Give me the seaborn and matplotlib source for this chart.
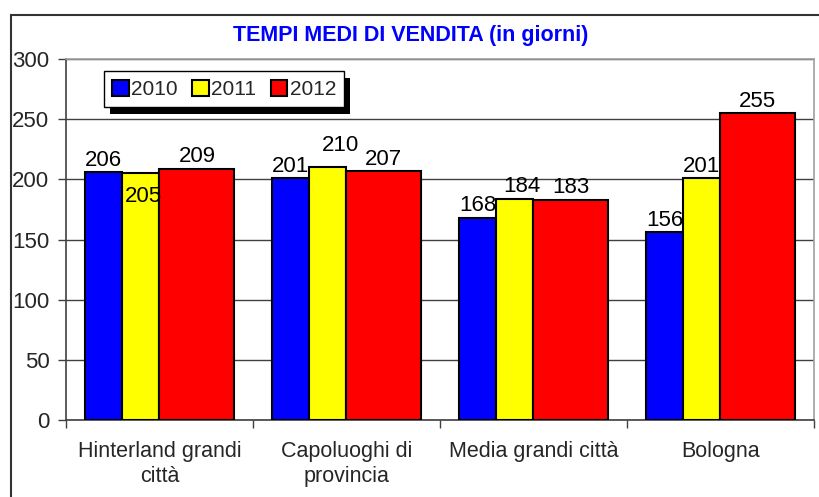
import pandas as pd
import seaborn as sns
import matplotlib.pyplot as plt
from matplotlib.patches import Rectangle
from matplotlib.transforms import IdentityTransform

categories = ["Hinterland grandi\ncittà", "Capoluoghi di\nprovincia", "Media grandi città", "Bologna"]
years = ["2010", "2011", "2012"]
v2010 = [206, 201, 168, 156]
v2011 = [205, 210, 184, 201]
v2012 = [209, 207, 183, 255]
colors = ["#0000ff", "#ffff00", "#ff0000"]

sns.set_style("white")
plt.rcParams["font.family"] = ["Liberation Sans", "DejaVu Sans"]

df = pd.DataFrame({
    "cat": categories * 3,
    "year": [y for y in years for _ in categories],
    "val": v2010 + v2011 + v2012,
})

fig = plt.figure(figsize=(8.2, 4.97), dpi=100)
ax = fig.add_axes([66 / 820, 77 / 497, 748 / 820, 361 / 497])

sns.barplot(data=df, x="cat", y="val", hue="year", hue_order=years, palette=colors,
            order=categories, width=0.8, edgecolor="black", linewidth=1.5,
            saturation=1, ax=ax, zorder=3)

# excel-style layout: 2010 and 2011 narrow, 2012 twice as wide
slot = 0.2
starts = [-0.4, -0.2, 0.0]
widths = [slot, slot, 2 * slot]
for i, cont in enumerate(ax.containers):
    for j, bar in enumerate(cont):
        bar.set_x(j + starts[i])
        bar.set_width(widths[i])

# value labels
special = {(1, 0): (2, -9, "top"), (1, 1): (9, 8, "bottom"), (1, 2): (5, 1, "bottom")}
for i, cont in enumerate(ax.containers):
    vals = [v2010, v2011, v2012][i]
    for j, bar in enumerate(cont):
        dx, dy, va = special.get((i, j), (0, 1, "bottom"))
        ax.annotate(str(vals[j]), (bar.get_x() + bar.get_width() / 2, bar.get_height()),
                    xytext=(dx, dy), textcoords="offset points", ha="center", va=va,
                    fontsize=16, color="black", zorder=6)

ax.set_ylim(0, 300)
ax.set_xlim(-0.5, 3.5)
ax.set_yticks(range(0, 301, 50))
ax.yaxis.grid(True, color="#404040", linewidth=1, zorder=0)
ax.set_axisbelow(True)
ax.set_xlabel("")
ax.set_ylabel("")
ax.tick_params(axis="y", labelsize=16, length=6, width=1, color="#404040", pad=6, left=True)
ax.set_xticks(range(4))
ax.set_xticklabels(categories, linespacing=1.25)
ax.tick_params(axis="x", which="major", labelsize=15.5, length=0, pad=15)
ax.set_xticks([-0.5, 0.5, 1.5, 2.5, 3.5], minor=True)
ax.tick_params(axis="x", which="minor", length=6, width=1, color="#404040", direction="out", bottom=True)
for s in ["left", "bottom"]:
    ax.spines[s].set_color("#404040")
    ax.spines[s].set_linewidth(1.2)
for s in ["top", "right"]:
    ax.spines[s].set_color("#a0a0a0")
    ax.spines[s].set_linewidth(1.2)

leg = ax.legend(loc="upper left", bbox_to_anchor=(0.051, 0.966), borderaxespad=0, ncol=3,
                fontsize=15, frameon=True, fancybox=False, framealpha=1, edgecolor="black",
                handlelength=0.8, handleheight=0.8, handletextpad=0.1, columnspacing=0.7,
                borderpad=0.4)
leg.get_frame().set_linewidth(1)
leg.set_zorder(10)

fig.canvas.draw()
bb = leg.get_window_extent()
ax.add_patch(Rectangle((bb.x0 + 6, bb.y0 - 7), bb.width, bb.height, transform=IdentityTransform(),
                       facecolor="black", edgecolor="none", zorder=9, clip_on=False))

fig.text(411 / 820, 1 - 35 / 497, "TEMPI MEDI DI VENDITA (in giorni)", ha="center", va="center",
         fontsize=15.5, fontweight="bold", color="#0000ff")

fig.patches.append(Rectangle((11 / 820, -0.1), 1.2, 1 - 15 / 497 + 0.1, transform=fig.transFigure,
                             fill=False, edgecolor="#333333", linewidth=1.5))

fig.savefig("out.png", dpi=100)
